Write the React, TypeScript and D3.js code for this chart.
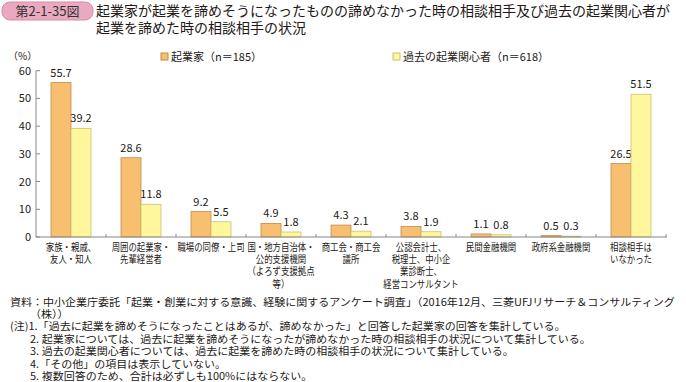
import React from "react";
import * as d3 from "d3";

const categories: string[][] = [
  ["家族・親戚、", "友人・知人"],
  ["周囲の起業家・", "先輩経営者"],
  ["職場の同僚・上司"],
  ["国・地方自治体・", "公的支援機関", "（よろず支援拠点", "等）"],
  ["商工会・商工会", "議所"],
  ["公認会計士、", "税理士、中小企", "業診断士、", "経営コンサルタント"],
  ["民間金融機関"],
  ["政府系金融機関"],
  ["相談相手は", "いなかった"],
];
const entrepreneurs = [55.7, 28.6, 9.2, 4.9, 4.3, 3.8, 1.1, 0.5, 26.5];
const pastInterested = [39.2, 11.8, 5.5, 1.8, 2.1, 1.9, 0.8, 0.3, 51.5];
const seriesNames = ["起業家（n＝185）", "過去の起業関心者（n＝618）"];
const yTicks = [0, 10, 20, 30, 40, 50, 60];
const titleLines = [
  "起業家が起業を諦めそうになったものの諦めなかった時の相談相手及び過去の起業関心者が",
  "起業を諦めた時の相談相手の状況",
];
const notes = [
  "資料：中小企業庁委託「起業・創業に対する意識、経験に関するアンケート調査」（2016年12月、三菱UFJリサーチ＆コンサルティング",
  "（株））",
  "(注)1.「過去に起業を諦めそうになったことはあるが、諦めなかった」と回答した起業家の回答を集計している。",
  "2. 起業家については、過去に起業を諦めそうになったが諦めなかった時の相談相手の状況について集計している。",
  "3. 過去の起業関心者については、過去に起業を諦めた時の相談相手の状況について集計している。",
  "4.「その他」の項目は表示していない。",
  "5. 複数回答のため、合計は必ずしも100%にはならない。",
];
const noteIndent = [10, 30, 10, 30, 30, 30, 30];

const FONT = "'Noto Sans CJK JP', 'Noto Sans', sans-serif";
const fills = ["#F9BF70", "#FFF79C"];
const strokes = ["#C08A50", "#C8C07A"];

export default function App() {
  const x0 = d3
    .scaleBand<number>()
    .domain(d3.range(categories.length))
    .range([36, 666])
    .paddingInner(0)
    .paddingOuter(0);
  const barW = 20;
  const y = d3.scaleLinear().domain([0, 60]).range([237, 70.7]);
  const series = [entrepreneurs, pastInterested];

  return (
    <svg
      width={686}
      height={382}
      style={{ position: "absolute", left: 0, top: 0, background: "#fff" }}
      fontFamily={FONT}
    >
      {/* title */}
      <rect x={2} y={2} width={91} height={18} rx={8} fill="#E9A9C0" stroke="#D98AA8" />
      <text x={47.5} y={16} textAnchor="middle" fontSize={13} fill="#333">
        第2-1-35図
      </text>
      {titleLines.map((t, i) => (
        <text key={i} x={96} y={16 + i * 16.5} fontSize={14} fill="#231815">
          {t}
        </text>
      ))}

      {/* legend */}
      {seriesNames.map((n, i) => {
        const lx = i === 0 ? 161 : 393;
        return (
          <g key={i}>
            <rect x={lx} y={53} width={7} height={7} fill={fills[i]} stroke={strokes[i]} />
            <text x={lx + 10} y={61} fontSize={11} fill="#231815">
              {n}
            </text>
          </g>
        );
      })}

      {/* y axis */}
      <text x={8} y={60} fontSize={10} fill="#231815">（%）</text>
      <line x1={36} x2={36} y1={y(60)} y2={y(0)} stroke="#888" />
      {yTicks.map((t) => (
        <g key={t}>
          <line x1={36} x2={40} y1={y(t)} y2={y(t)} stroke="#888" />
          <text x={31} y={y(t) + 4} textAnchor="end" fontSize={11} fill="#231815">
            {t}
          </text>
        </g>
      ))}

      {/* bars */}
      {categories.map((_, ci) => {
        const cx = (x0(ci) as number) + x0.bandwidth() / 2;
        return (
          <g key={ci}>
            {series.map((s, si) => {
              const bx = cx - barW + si * barW;
              const top = y(s[ci]);
              return (
                <g key={si}>
                  <rect
                    x={bx}
                    y={top}
                    width={barW}
                    height={y(0) - top}
                    fill={fills[si]}
                    stroke={strokes[si]}
                    strokeWidth={0.8}
                  />
                  <text
                    x={bx + barW / 2}
                    y={top - 6}
                    textAnchor="middle"
                    fontSize={11}
                    fill="#231815"
                  >
                    {s[ci].toFixed(1)}
                  </text>
                </g>
              );
            })}
          </g>
        );
      })}

      {/* x axis */}
      <line x1={36} x2={667} y1={y(0)} y2={y(0)} stroke="#888" />
      {d3.range(categories.length + 1).map((i) => {
        const tx = i < categories.length ? (x0(i) as number) : 666;
        if (i === 0) return null;
        return <line key={i} x1={tx} x2={tx} y1={y(0)} y2={y(0) - 3} stroke="#888" />;
      })}
      {categories.map((lines, ci) => {
        const cx = (x0(ci) as number) + x0.bandwidth() / 2;
        return (
          <g key={ci}>
            {lines.map((l, li) => (
              <text
                key={li}
                transform={`translate(${cx},${250.5 + li * 12.4}) scale(0.84,1)`}
                textAnchor="middle"
                fontSize={10}
                fill="#231815"
              >
                {l}
              </text>
            ))}
          </g>
        );
      })}

      {/* notes */}
      {notes.map((n, i) => (
        <text
          key={i}
          transform={`translate(${noteIndent[i]},${305.5 + i * 12.4}) scale(1.05,1)`}
          fontSize={10.5}
          fill="#231815"
        >
          {n}
        </text>
      ))}
    </svg>
  );
}
